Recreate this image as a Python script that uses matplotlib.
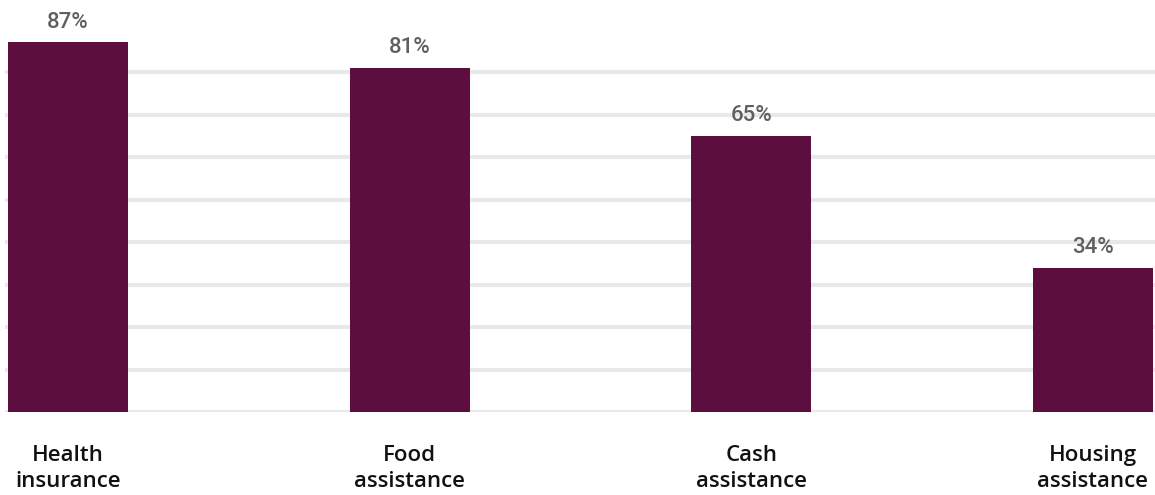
import matplotlib
matplotlib.use("Agg")
import matplotlib.pyplot as plt
from matplotlib.transforms import blended_transform_factory

categories = ["Health\ninsurance", "Food\nassistance", "Cash\nassistance", "Housing\nassistance"]
values = [87, 81, 65, 34]
value_labels = ["87%", "81%", "65%", "34%"]
grid_levels = [0, 10, 20, 30, 40, 50, 60, 70, 80]

W, H = 1155, 495
fig = plt.figure(figsize=(W / 100, H / 100), dpi=100)
fig.patch.set_facecolor("white")

px_per_unit = 1025 / 3
px_per_pct = 4.25
zero_px = 412
left_px, right_px = 5, 1155
ax = fig.add_axes([left_px / W, (H - zero_px) / H, (right_px - left_px) / W, 90 * px_per_pct / H])
ax.set_xlim(-(68 - left_px) / px_per_unit, 3 + (right_px - 1093) / px_per_unit)
ax.set_ylim(0, 90)

for g in grid_levels:
    ax.axhline(g, color="#e8e8e8", lw=3.0, zorder=1)

x = list(range(len(categories)))
bars = ax.bar(x, values, width=120 / px_per_unit, color="#5c0f3e", zorder=2)

for xi, v, lab in zip(x, values, value_labels):
    ax.annotate(lab, (xi, v), xytext=(0, 7), textcoords="offset points",
                ha="center", va="bottom", fontsize=16, color="#606060",
                family="Roboto", fontweight="medium")

trans = blended_transform_factory(ax.transData, fig.transFigure)
for xi, c in zip(x, categories):
    ax.text(xi, (H - 445) / H, c, transform=trans, ha="center", va="top",
            fontsize=16, color="#111111", family="Open Sans", fontweight="semibold",
            linespacing=1.33)

ax.axis("off")
fig.savefig("out.png", dpi=100, facecolor="white")
